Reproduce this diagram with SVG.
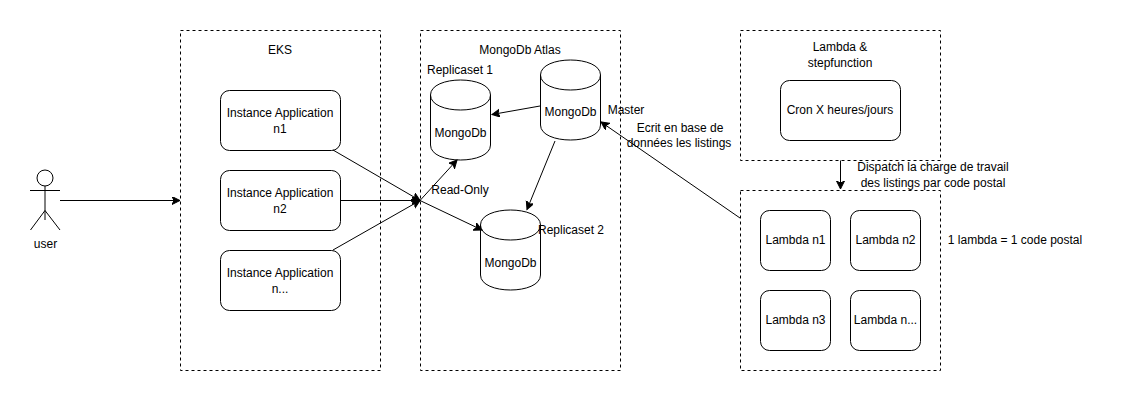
<svg xmlns="http://www.w3.org/2000/svg" width="1121" height="402" viewBox="0 0 1121 402">
<style>
text{font-family:"Liberation Sans",Arial,sans-serif;font-size:12px;fill:#000;text-anchor:middle}
.g{fill:none;stroke:#000;stroke-dasharray:3 3}
.n{fill:#fff;stroke:#000}
.f{fill:none;stroke:#000}
.c{fill:none;stroke:#000;marker-end:url(#a)}
</style>
<defs>
<marker id="a" markerUnits="userSpaceOnUse" markerWidth="10" markerHeight="10" refX="8" refY="4" orient="auto"><path d="M0 0L8 4L0 8L2 4Z" fill="#000" stroke="#000"/></marker>
<g id="cyl"><path class="n" d="M0.500 15C0.500 -5 60.500 -5 60.500 15V65C60.500 85 0.500 85 0.500 65Z"/><path class="f" d="M0.500 15C0.500 35 60.500 35 60.500 15"/></g>
</defs>
<rect width="1121" height="402" fill="#fff"/>
<g id="eks"><rect class="g" x="180.500" y="30.500" width="200" height="340"/><text x="280" y="54">EKS</text></g>
<g id="atlas"><rect class="g" x="420.500" y="30.500" width="200" height="340"/><text x="520" y="54">MongoDb Atlas</text></g>
<g id="lambda-group"><rect class="g" x="740.500" y="30.500" width="200" height="130"/><text x="840" y="51">Lambda &amp;</text><text x="840" y="67">stepfunction</text></g>
<g id="workers-group"><rect class="g" x="740.500" y="190.500" width="200" height="180"/></g>
<g id="user"><circle class="f" cx="45" cy="178" r="8"/><path class="f" d="M45 186V220M30 190.500H60M45 210.500L30.500 230M45 210.500L60 230"/><text x="45.500" y="248">user</text></g>
<g id="app1"><rect class="n" x="220.500" y="90.500" width="120" height="60" rx="9"/><text x="280" y="117">Instance Application</text><text x="280" y="133">n1</text></g>
<g id="app2"><rect class="n" x="220.500" y="170.500" width="120" height="60" rx="9"/><text x="280" y="197">Instance Application</text><text x="280" y="213">n2</text></g>
<g id="app3"><rect class="n" x="220.500" y="250.500" width="120" height="60" rx="9"/><text x="280" y="277">Instance Application</text><text x="280" y="293">n...</text></g>
<g id="replica1"><use href="#cyl" x="430" y="80"/><text x="460.500" y="137">MongoDb</text><text x="460" y="74">Replicaset 1</text></g>
<g id="master"><use href="#cyl" x="540" y="60"/><text x="570.500" y="116">MongoDb</text><text x="626" y="114">Master</text></g>
<g id="replica2"><use href="#cyl" x="480" y="210"/><text x="510.500" y="267">MongoDb</text><text x="571" y="234">Replicaset 2</text></g>
<g id="cron"><rect class="n" x="780.500" y="80.500" width="120" height="60" rx="9"/><text x="840" y="114">Cron X heures/jours</text></g>
<g id="l1"><rect class="n" x="760.500" y="210.500" width="70" height="60" rx="9"/><text x="795.500" y="244">Lambda n1</text></g>
<g id="l2"><rect class="n" x="850.500" y="210.500" width="70" height="60" rx="9"/><text x="885.500" y="244">Lambda n2</text></g>
<g id="l3"><rect class="n" x="760.500" y="290.500" width="70" height="60" rx="9"/><text x="795.500" y="324">Lambda n3</text></g>
<g id="l4"><rect class="n" x="850.500" y="290.500" width="70" height="60" rx="9"/><text x="885.500" y="324">Lambda n...</text></g>
<g id="connectors">
<path class="c" d="M60 200.500H180"/>
<path class="c" d="M333 150L420 200.500"/>
<path class="c" d="M340.500 200.500H420"/>
<path class="c" d="M333 250L420 200.500"/>
<path class="c" d="M420 200.500L457 160"/>
<path class="c" d="M420 200.500L482 230"/>
<path class="c" d="M540 106L492 114.500"/>
<path class="c" d="M555 141L527 209.500"/>
<path class="c" d="M740 218L601 122"/>
<path class="c" d="M840.500 160.500V189"/>
</g>
<g id="labels">
<text x="460" y="194">Read-Only</text>
<text x="680" y="132">Ecrit en base de</text>
<text x="679" y="147">données les listings</text>
<text x="933" y="171">Dispatch la charge de travail</text>
<text x="933" y="187">des listings par code postal</text>
<text x="1015" y="244">1 lambda = 1 code postal</text>
</g>
</svg>
